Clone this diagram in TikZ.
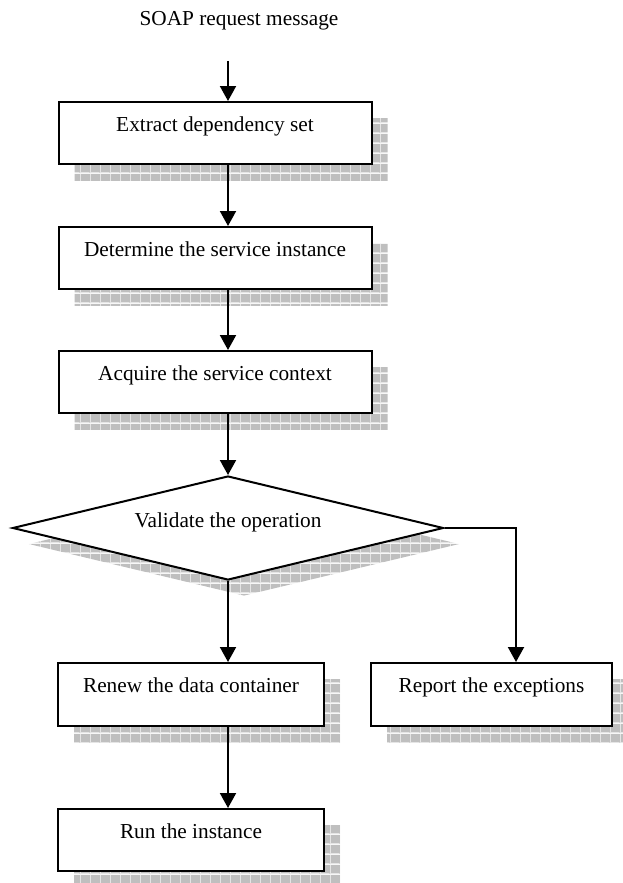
\documentclass[tikz,border=0pt]{standalone}
\usepackage{fontspec}
\setmainfont{Liberation Serif}
\usetikzlibrary{arrows.meta, shapes.geometric, shadows, patterns.meta}

\tikzdeclarepattern{
  name=shadowgrid,
  type=colored,
  bottom left={(0pt,0pt)},
  top right={(10pt,10pt)},
  tile size={(10pt,10pt)},
  code={
    \fill[gray!50] (0pt,0pt) rectangle (10pt,10pt);
    \draw[gray!20, line width=1pt] (0pt,0.5pt) -- (10pt,0.5pt) (0.5pt,0pt) -- (0.5pt,10pt);
  }
}

\begin{document}
\begin{tikzpicture}[x=1pt, y=-1pt, >={Triangle[length=15pt, width=16pt]}, line width=2pt,
  every node/.style={font=\fontsize{21.3}{25}\selectfont},
  gridshadow/.style={drop shadow={shadow xshift=16pt, shadow yshift=-16pt, opacity=1, pattern=shadowgrid}},
  stepbox/.style={draw, fill=white, rectangle, inner sep=0pt, minimum height=62pt, text height=15pt, text depth=19pt, gridshadow},
  decision/.style={draw, fill=white, diamond, aspect=4.1, inner sep=0pt, minimum width=431pt, minimum height=104pt, text height=15pt, text depth=17pt, gridshadow}]
			\useasboundingbox (0,0) rectangle (623,883);

			\node[anchor=base] (request) at (239,26) {SOAP request message};
			\coordinate (start) at (228,61);

			\node[stepbox, minimum width=313pt] (extract) at (215,133) {Extract dependency set};
			\node[stepbox, minimum width=313pt] (determine) at (215,258) {Determine the service instance};
			\node[stepbox, minimum width=313pt] (acquire) at (215,382) {Acquire the service context};

			\node[decision] (validate) at (228,528) {Validate the operation};

			\node[stepbox, minimum width=266pt, minimum height=63pt] (renew) at (191,694.5) {Renew the data container};
			\node[stepbox, minimum width=241pt, minimum height=63pt] (report) at (491.5,694.5) {Report the exceptions};
			\node[stepbox, minimum width=266pt] (run) at (191,840) {Run the instance};

			\coordinate (bend) at (516,528);

			\draw[->] (start) -- (extract.north -| start);
			\draw[->] (extract.south -| start) -- (determine.north -| start);
			\draw[->] (determine.south -| start) -- (acquire.north -| start);
			\draw[->] (acquire.south -| start) -- (validate.north);

			\draw[->] (validate.south) -- (renew.north -| validate);
			\draw[->] (renew.south -| validate) -- (run.north -| validate);
			\draw[->] (validate.east) -- (bend) -- (report.north -| bend);
		\end{tikzpicture}
\end{document}
